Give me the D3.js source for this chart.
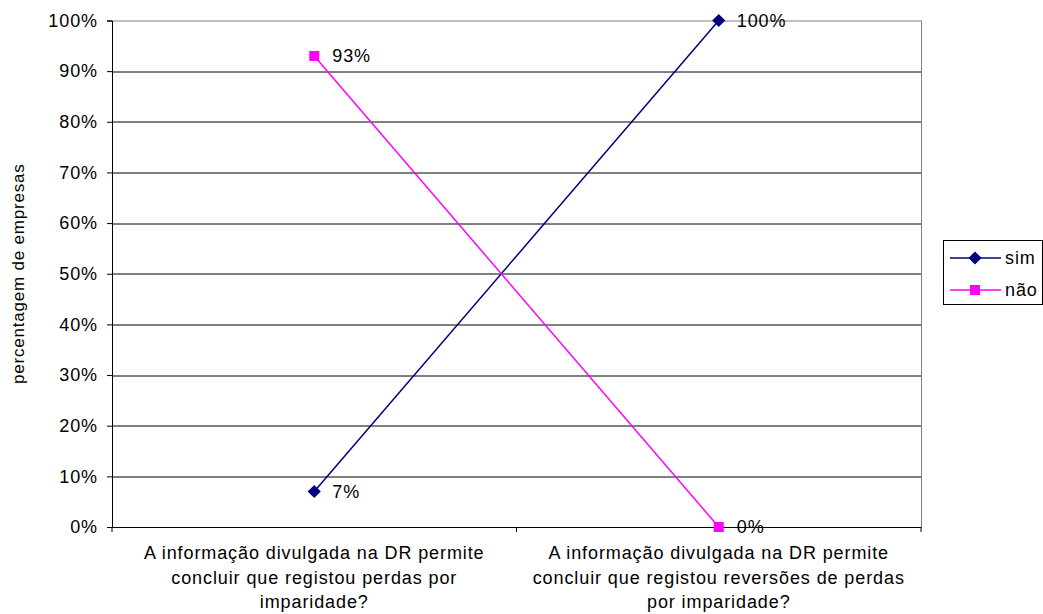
<!DOCTYPE html>
<html>
<head>
<meta charset="utf-8">
<script src="https://cdn.jsdelivr.net/npm/d3@7"></script>
<style>
  body { margin: 0; background: #fff; }
  text { font-family: "Liberation Sans", Arial, sans-serif; fill: #000; }
  .axis path, .axis line { stroke: #000; }
</style>
</head>
<body>
<div id="chart"></div>
<script>
// percentagem de empresas - sim / não
const categories = [
  ["A informação divulgada na DR permite", "concluir que registou perdas por", "imparidade?"],
  ["A informação divulgada na DR permite", "concluir que registou reversões de perdas", "por imparidade?"]
];
const simValues = [7, 100];
const naoValues = [93, 0];
const yTicks = [0, 10, 20, 30, 40, 50, 60, 70, 80, 90, 100];

const series = [
  { name: "sim", values: simValues, color: "#000080", marker: "diamond" },
  { name: "não", values: naoValues, color: "#ff00ff", marker: "square" }
];

const width = 1043, height = 614;
const margin = { top: 20.5, right: 122, bottom: 87, left: 112 };
const innerWidth = width - margin.left - margin.right;
const innerHeight = height - margin.top - margin.bottom;
const fs = "18px", ls = "0.9px";

const svg = d3.select("#chart").append("svg")
  .attr("width", width)
  .attr("height", height);

const g = svg.append("g")
  .attr("transform", `translate(${margin.left},${margin.top})`);

const x = d3.scaleBand()
  .domain(d3.range(categories.length))
  .range([0, innerWidth]);

const y = d3.scaleLinear()
  .domain([0, 100])
  .range([innerHeight, 0]);

// gridlines
g.append("g")
  .selectAll("line")
  .data(yTicks.filter(d => d > 0))
  .enter().append("line")
  .attr("x1", 0)
  .attr("x2", innerWidth)
  .attr("y1", d => Math.round(y(d)) + 0.5)
  .attr("y2", d => Math.round(y(d)) + 0.5)
  .attr("stroke", d => d === 100 ? "#808080" : "#000");

// plot border right
g.append("line")
  .attr("x1", innerWidth + 0.5).attr("x2", innerWidth + 0.5)
  .attr("y1", 0).attr("y2", innerHeight)
  .attr("stroke", "#808080");

// y axis
const yAxis = g.append("g")
  .attr("class", "axis")
  .call(d3.axisLeft(y)
    .tickValues(yTicks)
    .tickSize(5)
    .tickPadding(9)
    .tickFormat(d => d + "%"));
yAxis.selectAll("text")
  .style("font-size", fs)
  .style("letter-spacing", ls);

// x axis
const xAxis = g.append("g")
  .attr("class", "axis")
  .attr("transform", `translate(0,${innerHeight})`)
  .call(d3.axisBottom(x).tickSize(0).tickFormat(""));
xAxis.selectAll(".cat-tick")
  .data(d3.range(categories.length + 1))
  .enter().append("line")
  .attr("class", "cat-tick")
  .attr("x1", d => d === categories.length ? innerWidth : x(d))
  .attr("x2", d => d === categories.length ? innerWidth : x(d))
  .attr("y1", 0).attr("y2", 5)
  .attr("stroke", "#000");

const catLabels = g.selectAll(".cat-label")
  .data(categories)
  .enter().append("text")
  .attr("class", "cat-label")
  .attr("text-anchor", "middle")
  .attr("transform", (d, i) => `translate(${x(i) + x.bandwidth() / 2},${innerHeight + 32})`)
  .style("font-size", fs)
  .style("letter-spacing", ls);
catLabels.selectAll("tspan")
  .data(d => d)
  .enter().append("tspan")
  .attr("x", 0)
  .attr("dy", (d, i) => i === 0 ? 0 : 24.5)
  .text(d => d);

// y axis title
svg.append("text")
  .attr("transform", `translate(24,${margin.top + innerHeight / 2}) rotate(-90)`)
  .attr("text-anchor", "middle")
  .style("font-size", "17px")
  .style("letter-spacing", "0.8px")
  .text("percentagem de empresas");

const line = d3.line()
  .x((d, i) => x(i) + x.bandwidth() / 2)
  .y(d => y(d));

function drawMarker(sel, s) {
  if (s.marker === "diamond") {
    sel.append("path")
      .attr("d", d3.symbol().type(d3.symbolDiamond2).size(110)())
      .attr("fill", s.color);
  } else {
    sel.append("rect")
      .attr("x", -5).attr("y", -5)
      .attr("width", 10).attr("height", 10)
      .attr("fill", s.color);
  }
}

series.forEach(s => {
  g.append("path")
    .datum(s.values)
    .attr("fill", "none")
    .attr("stroke", s.color)
    .attr("stroke-width", 1.5)
    .attr("d", line);

  const pts = g.selectAll(null)
    .data(s.values)
    .enter().append("g")
    .attr("transform", (d, i) => `translate(${x(i) + x.bandwidth() / 2},${y(d)})`);
  pts.each(function() { drawMarker(d3.select(this), s); });
  pts.append("text")
    .attr("x", 18)
    .attr("dy", "0.35em")
    .style("font-size", fs)
    .style("letter-spacing", ls)
    .text(d => d + "%");
});

// legend
const legend = svg.append("g")
  .attr("transform", "translate(943,240)");
legend.append("rect")
  .attr("x", 0.5).attr("y", 0.5)
  .attr("width", 99).attr("height", 64)
  .attr("fill", "#fff")
  .attr("stroke", "#000");
series.forEach((s, i) => {
  const row = legend.append("g")
    .attr("transform", `translate(0,${18 + i * 32})`);
  row.append("line")
    .attr("x1", 7).attr("x2", 58)
    .attr("stroke", s.color)
    .attr("stroke-width", 1.5);
  const m = row.append("g").attr("transform", "translate(32,0)");
  drawMarker(m, s);
  row.append("text")
    .attr("x", 62)
    .attr("dy", "0.35em")
    .style("font-size", fs)
    .style("letter-spacing", ls)
    .text(s.name);
});
</script>
</body>
</html>
